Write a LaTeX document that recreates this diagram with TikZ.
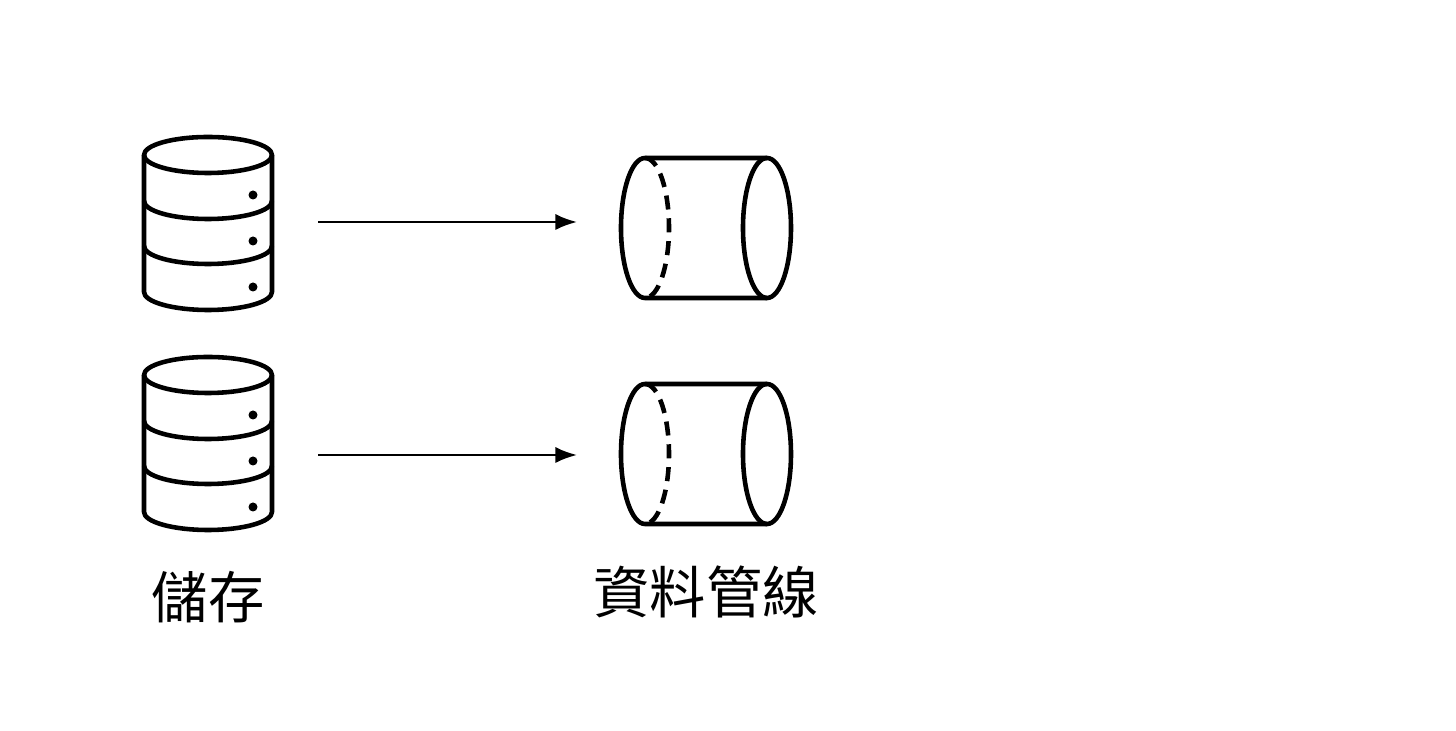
\documentclass[tikz,border=0pt]{standalone}
\usepackage{fontspec}
\newfontfamily\cjk{Noto Sans CJK TC}
\usetikzlibrary{arrows.meta}
\tikzset{>=Latex}
\tikzset{icon/.style={line width=1.3pt,line join=round}}
\tikzset{flow/.style={->,line width=0.7pt}}
\tikzset{caption/.style={font=\cjk\fontsize{16}{19}\selectfont,inner sep=0pt}}

\begin{document}
\begin{tikzpicture}[x=0.01cm,y=-0.01cm]
	\useasboundingbox (0,0) rectangle (1456,731);
	\def \rx {64};
	\def \ry {18};
	
    % storage stacks
    \foreach \i/\ytop/\arr in {1/155/222,2/375/455} {
        \draw[icon] (208,\ytop) ellipse ({\rx} and {\ry});
        \draw[icon] (144,\ytop) -- (144,\ytop+137) arc (180:0:{\rx} and {\ry}) -- (272,\ytop);
        \draw[icon] (144,\ytop+46) arc (180:0:{\rx} and {\ry});
        \draw[icon] (144,\ytop+91) arc (180:0:{\rx} and {\ry});
        \foreach \j in {0,1,2}
            \fill (253,\ytop+40+\j*46) circle (4.5);
        \coordinate (s\i) at (318,\arr);
    };
    
    % pipeline tubes
    \foreach \i/\ymid/\arr in {1/228/222,2/454/455} {
        \draw[icon] (767,\ymid) ellipse (24 and 70);
        \draw[icon] (767,\ymid-70) -- (645,\ymid-70) arc (-90:-270:24 and 70) -- (767,\ymid+70);
        \draw[icon,dash pattern=on 4pt off 2.5pt] (645,\ymid-70) arc (-90:90:24 and 70);
        \coordinate (p\i) at (577,\arr);
    };
    
    \draw[flow] (s1) -- (p1);
    \draw[flow] (s2) -- (p2);
    
    \node[caption] (storage) at (208,597) {儲存};
    \node[caption] (pipeline) at (706,592) {資料管線};
\end{tikzpicture}
\end{document}
